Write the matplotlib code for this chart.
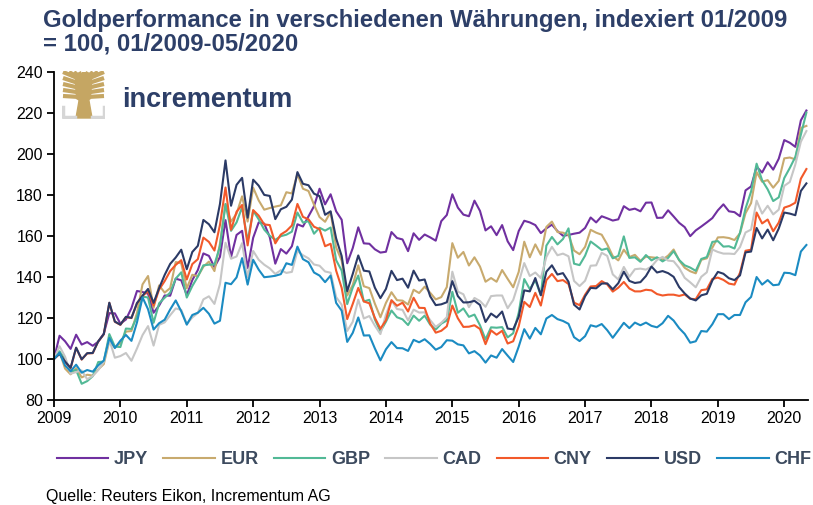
import numpy as np
import matplotlib
matplotlib.use("Agg")
from matplotlib import pyplot as plt
from matplotlib.patches import Polygon

plt.rcParams['font.family'] = ['Liberation Sans', 'DejaVu Sans']

# month-end gold price index (01/2009 = 100), 01/2009 - 05/2020
usd = [100, 102.5, 98.7, 95.7, 105.5, 99.8, 102.8, 102.9, 108.6, 112.1, 127.4, 118.2,
       116.7, 120.5, 120.0, 127.2, 130.8, 134.1, 127.3, 134.5, 140.9, 146.3, 149.4, 153.2,
       143.7, 152.1, 155.1, 167.7, 165.6, 161.7, 175.5, 196.7, 174.6, 184.8, 188.2, 168.8,
       187.3, 184.4, 179.9, 179.4, 168.1, 172.9, 174.1, 177.6, 191.0, 185.3, 184.6, 180.5,
       179.3, 170.2, 171.9, 158.7, 150.1, 133.0, 141.4, 150.4, 143.0, 142.6, 134.7, 129.6,
       134.1, 142.9, 138.4, 139.1, 134.7, 143.0, 138.2, 138.7, 130.5, 126.2, 126.6, 127.6,
       137.9, 130.6, 127.5, 127.6, 128.3, 126.3, 118.0, 122.1, 120.2, 123.1, 114.8, 114.4,
       120.5, 133.4, 132.9, 139.4, 131.0, 142.5, 145.6, 141.1, 141.8, 137.6, 126.4, 124.1,
       130.5, 134.6, 134.4, 136.7, 136.8, 133.9, 136.9, 142.5, 138.0, 137.0, 137.4, 140.4,
       145.0, 142.1, 142.8, 141.8, 140.0, 135.0, 131.9, 129.4, 128.5, 131.0, 131.7, 138.2,
       142.4, 141.5, 139.3, 138.4, 140.7, 151.9, 152.3, 163.8, 158.7, 163.0, 157.8, 163.5,
       171.3, 170.8, 170.0, 181.8, 185.5]

eur = [100, 103.5, 95.3, 92.5, 95.5, 91.0, 92.3, 91.9, 94.9, 97.5, 108.7, 105.6,
       107.7, 113.3, 113.6, 122.4, 136.3, 140.4, 124.9, 135.8, 132.3, 134.5, 147.2, 146.6,
       134.4, 141.0, 140.2, 144.9, 147.4, 142.8, 156.2, 175.3, 166.9, 170.8, 179.2, 166.9,
       183.4, 177.2, 172.7, 173.5, 174.2, 174.8, 181.2, 180.6, 190.0, 182.9, 181.8, 175.1,
       169.1, 166.8, 171.6, 154.3, 147.9, 130.9, 136.0, 145.6, 135.4, 134.5, 126.9, 120.3,
       127.3, 132.5, 128.6, 128.4, 126.5, 133.7, 132.1, 135.2, 132.2, 129.0, 130.1, 135.0,
       156.4, 149.3, 152.1, 145.5, 149.5, 145.0, 137.6, 139.4, 137.6, 143.3, 139.0, 134.9,
       142.4, 157.1, 149.5, 155.8, 150.7, 164.3, 166.9, 161.8, 161.5, 160.4, 152.8, 151.0,
       154.6, 162.9, 161.5, 160.5, 155.8, 150.1, 148.0, 153.2, 149.6, 150.7, 147.8, 149.8,
       149.5, 149.2, 148.4, 150.3, 153.3, 148.0, 144.4, 142.7, 141.7, 148.3, 149.0, 154.2,
       159.2, 159.3, 158.9, 157.9, 161.2, 171.0, 175.9, 191.0, 186.3, 187.1, 183.4, 186.7,
       197.7, 198.1, 197.2, 212.5, 213.5]

gbp = [100, 103.7, 99.8, 93.8, 94.6, 87.9, 89.2, 91.6, 98.5, 98.7, 112.1, 106.0,
       105.8, 114.8, 114.6, 120.5, 130.4, 129.9, 117.6, 127.1, 129.8, 132.3, 139.1, 142.2,
       129.9, 135.5, 140.1, 145.6, 145.9, 146.0, 154.8, 175.5, 162.4, 166.5, 173.9, 157.3,
       172.2, 168.0, 163.0, 160.0, 158.0, 159.8, 160.5, 162.0, 171.3, 166.4, 167.1, 161.0,
       163.9, 162.5, 164.0, 148.1, 143.0, 126.7, 134.8, 140.6, 128.0, 128.8, 119.2, 113.4,
       118.1, 123.6, 120.3, 119.3, 116.5, 121.1, 118.6, 121.1, 116.7, 114.3, 117.2, 118.7,
       132.7, 122.5, 124.6, 120.5, 121.6, 116.4, 109.5, 115.4, 115.2, 115.5, 110.5, 112.5,
       122.5, 138.9, 134.0, 138.3, 131.1, 155.2, 159.4, 155.8, 158.4, 163.6, 146.4, 145.7,
       150.3, 157.2, 155.2, 153.1, 153.8, 149.0, 150.2, 159.7, 149.2, 149.5, 147.3, 150.6,
       148.0, 149.5, 147.5, 149.2, 152.5, 148.2, 145.6, 144.5, 142.9, 148.7, 149.6, 157.0,
       157.4, 154.7, 154.9, 153.8, 161.5, 173.3, 181.5, 195.1, 187.0, 182.6, 176.9, 178.7,
       188.1, 193.0, 198.4, 209.3, 220.0]

jpy = [100, 111.3, 108.6, 104.9, 111.8, 107.0, 108.2, 106.4, 108.4, 112.3, 122.3, 122.2,
       117.2, 119.2, 124.8, 133.1, 132.6, 131.8, 122.5, 126.0, 130.9, 130.8, 139.1, 138.3,
       131.1, 138.4, 143.3, 151.4, 150.2, 144.7, 149.7, 167.6, 149.6, 160.4, 162.4, 144.3,
       159.0, 166.5, 165.9, 159.3, 146.4, 153.5, 151.3, 154.9, 165.6, 164.5, 169.5, 174.4,
       182.9, 175.3, 180.2, 171.9, 167.8, 146.6, 154.0, 164.1, 156.3, 156.1, 153.4, 151.8,
       152.2, 161.8, 158.9, 158.2, 152.5, 161.2, 158.0, 160.6, 159.2, 157.6, 167.1, 170.1,
       180.2, 173.7, 170.3, 169.5, 177.1, 172.1, 162.6, 164.6, 160.3, 165.2, 157.3, 153.0,
       162.3, 167.3, 166.5, 165.2, 161.3, 163.6, 165.4, 162.3, 160.0, 160.4, 161.0, 161.5,
       163.8, 168.9, 166.5, 169.5, 168.5, 167.4, 168.0, 174.4, 172.6, 173.2, 171.9, 176.1,
       176.2, 168.7, 168.8, 172.4, 169.4, 166.3, 164.2, 159.8, 162.6, 164.5, 166.5, 168.6,
       172.4, 175.3, 171.9, 171.5, 169.5, 182.1, 184.0, 193.6, 190.8, 195.8, 192.2, 197.5,
       206.6, 205.3, 203.3, 216.2, 221.0]

cad = [100, 106.2, 101.1, 92.8, 93.6, 94.4, 90.1, 91.7, 94.6, 98.5, 109.4, 100.6,
       101.4, 102.9, 99.1, 105.1, 111.6, 116.0, 106.5, 116.6, 117.8, 121.3, 124.6, 123.9,
       117.0, 120.2, 122.4, 129.0, 130.5, 126.8, 136.5, 156.6, 148.8, 149.9, 156.4, 139.8,
       152.6, 148.3, 145.9, 144.1, 141.4, 143.2, 141.9, 142.4, 152.6, 150.5, 149.0, 146.0,
       145.4, 142.6, 142.0, 130.1, 126.4, 113.6, 118.1, 128.9, 119.7, 120.9, 116.2, 112.1,
       121.5, 128.6, 124.3, 123.9, 118.8, 124.0, 122.6, 122.7, 118.9, 115.6, 117.6, 120.3,
       142.5, 132.8, 131.5, 125.2, 129.7, 128.2, 125.4, 130.6, 130.9, 130.9, 124.7, 128.7,
       137.2, 146.7, 140.4, 142.1, 139.4, 149.7, 154.6, 150.5, 151.3, 150.0, 138.0, 135.5,
       138.1, 145.4, 145.6, 151.7, 150.2, 141.2, 138.7, 144.8, 140.0, 143.7, 144.0, 143.5,
       145.0, 148.2, 149.7, 147.9, 147.6, 144.3, 139.5, 137.3, 134.9, 140.0, 142.2, 153.3,
       152.1, 151.3, 151.3, 151.1, 154.5, 161.6, 163.0, 177.1, 170.8, 174.6, 170.4, 172.7,
       184.3, 186.2, 194.7, 205.8, 211.0]

cny = [100, 102.5, 98.6, 95.5, 105.4, 99.7, 102.7, 102.8, 108.5, 112.0, 127.3, 118.1,
       116.6, 120.4, 119.9, 127.1, 130.7, 133.0, 126.0, 133.8, 137.9, 142.8, 145.8, 148.1,
       138.7, 146.2, 148.6, 159.1, 157.0, 152.8, 165.3, 183.5, 162.9, 171.7, 175.0, 155.3,
       172.5, 169.8, 165.5, 165.2, 156.3, 160.6, 162.3, 165.0, 175.5, 169.2, 168.0, 164.4,
       163.2, 154.9, 156.1, 143.0, 134.6, 119.4, 126.8, 134.6, 128.0, 127.1, 120.0, 114.7,
       118.8, 128.6, 125.9, 127.4, 123.1, 129.8, 124.9, 124.8, 117.2, 112.8, 113.7, 115.9,
       126.0, 119.8, 115.6, 115.7, 116.4, 114.6, 107.2, 113.9, 111.8, 113.7, 107.5, 108.6,
       115.9, 127.8, 125.3, 132.2, 126.0, 138.4, 141.4, 137.9, 138.4, 136.5, 127.4, 126.2,
       131.3, 135.3, 135.5, 137.9, 136.3, 132.8, 134.7, 137.5, 134.3, 132.9, 132.9, 133.7,
       133.4, 131.6, 130.9, 131.3, 131.3, 130.7, 131.4, 129.3, 129.1, 133.5, 133.9, 139.0,
       139.6, 138.5, 136.7, 136.2, 142.0, 152.7, 153.2, 171.3, 166.0, 167.9, 162.2, 166.4,
       173.7, 174.6, 176.1, 187.8, 192.5]

chf = [100, 103.0, 96.8, 94.0, 97.2, 93.3, 94.6, 93.8, 96.9, 99.2, 110.2, 105.3,
       108.9, 111.7, 108.8, 117.8, 130.0, 124.2, 114.3, 117.4, 119.1, 124.1, 128.5, 123.2,
       116.7, 121.4, 122.5, 124.9, 122.0, 117.2, 118.6, 137.1, 136.4, 139.7, 149.1, 136.2,
       148.3, 143.5, 139.8, 140.1, 140.5, 141.3, 146.6, 145.8, 154.7, 148.6, 147.1, 142.1,
       140.6, 137.4, 140.6, 127.3, 123.5, 108.3, 112.7, 120.2, 111.4, 111.5, 105.1, 99.3,
       104.7, 108.2, 105.3, 105.2, 103.9, 109.3, 108.1, 109.6, 107.3, 104.5, 105.8, 109.1,
       108.9, 107.1, 106.6, 102.7, 103.8, 101.7, 98.2, 101.7, 100.6, 104.8, 101.6, 98.5,
       106.0, 114.5, 109.9, 115.1, 112.0, 119.7, 121.4, 119.4, 118.5, 117.1, 110.6, 108.7,
       111.1, 116.4, 115.7, 117.0, 114.0, 110.3, 113.9, 117.6, 115.0, 117.7, 116.4, 117.7,
       116.1, 115.4, 117.4, 121.0, 118.7, 115.0, 112.2, 107.9, 108.6, 113.6, 113.3, 116.9,
       121.8, 121.8, 119.4, 121.4, 121.4, 127.6, 130.2, 139.9, 136.2, 138.4, 135.9, 136.2,
       142.0, 141.8, 140.8, 152.3, 155.5]

names = ['JPY', 'EUR', 'GBP', 'CAD', 'CNY', 'USD', 'CHF']
series = [jpy, eur, gbp, cad, cny, usd, chf]
colors = ['#7030a0', '#c8aa6e', '#52b996', '#c6c6c6', '#f2592a', '#2b3a66', '#1b8bc2']
years = list(range(2009, 2021))

x = 2009 + np.arange(len(usd)) / 12.0

fig = plt.figure(figsize=(8.13, 5.05), dpi=100)
ax = fig.add_axes([54/813, 1 - 400/505, 753.5/813, 328.5/505])

for name, vals, c in zip(names, series, colors):
    ax.plot(x, vals, color=c, lw=1.5, label=name)

ax.set_xlim(2009, 2020.35)
ax.set_ylim(80, 240)
ax.set_yticks(range(80, 241, 20))
ax.set_xticks(years)
ax.set_xticklabels([str(y) for y in years])
for s in ['top', 'right']:
    ax.spines[s].set_visible(False)
for s in ['left', 'bottom']:
    ax.spines[s].set_linewidth(1.3)
ax.tick_params(direction='out', length=5, width=1.3, labelsize=11.5, colors='black', pad=3)

ax.legend(loc='center left', bbox_to_anchor=(57/813, 1 - 460/505),
          bbox_transform=fig.transFigure, ncol=7, frameon=False,
          handlelength=2.85, handletextpad=0.3, columnspacing=0.85,
          borderpad=0, borderaxespad=0,
          prop={'weight': 'bold', 'size': 13}, labelcolor='#3c4a5e')

# title
fig.text(43/813, 1 - 9/505,
         "Goldperformance in verschiedenen Währungen, indexiert 01/2009\n= 100, 01/2009-05/2020",
         ha='left', va='top', fontsize=17.2, fontweight='bold', color='#2d3f68',
         linespacing=1.0)

fig.text(46/813, 1 - 497/505, "Quelle: Reuters Eikon, Incrementum AG",
         ha='left', va='center', fontsize=11.5, color='black')

# logo
fig.text(122/813, 1 - 107/505, "incrementum", ha='left', va='baseline',
         fontsize=19.5, color='#2d3f68', fontweight='bold')
lax = fig.add_axes([62/813, 1 - 119/505, 43/813, 48/505])
lax.set_xlim(0, 43)
lax.set_ylim(48, 0)
lax.axis('off')
gold = '#c5a663'
lax.add_patch(Polygon([[14, 47], [30, 47], [26.5, 27], [17.5, 27]], closed=True, color=gold))
tips = [(1, 1), (7, 1), (12, 1), (17, 1), (21.5, 1), (26, 1), (31, 1), (36, 1), (42, 1),
        (1, 7), (42, 7), (1, 13), (42, 13), (1, 19), (42, 19), (1, 25), (42, 25)]
for tx, ty in tips:
    mx = 21.5 + (tx - 21.5) * 0.35
    my = 29 + (ty - 29) * 0.8
    lax.plot([21.5, mx, tx], [30, my, ty], color=gold, lw=3.0, solid_capstyle='butt')
grey = '#d6d6d6'
lax.plot([1, 1, 13], [36, 46, 46], color=grey, lw=2.5)
lax.plot([30, 42, 42], [46, 46, 36], color=grey, lw=2.5)

fig.savefig("out.png", dpi=100)
